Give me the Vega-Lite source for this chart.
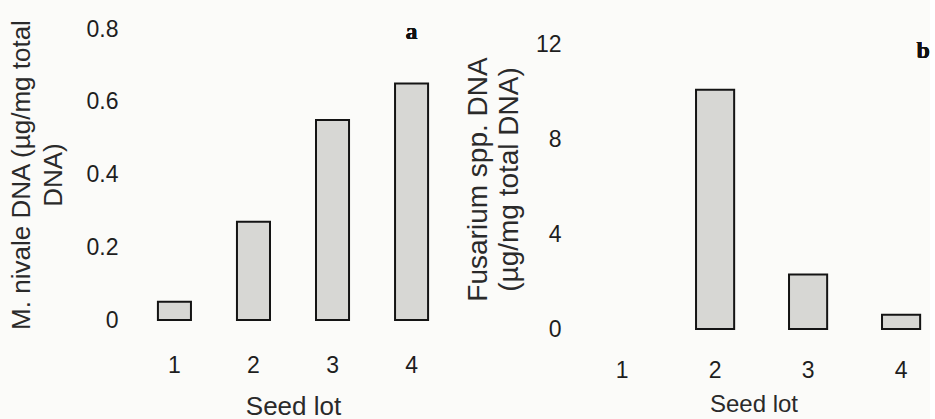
{
  "$schema": "https://vega.github.io/schema/vega-lite/v6.json",
  "background": "#fbfbf9",
  "padding": {"left": 8, "top": 18, "right": 0, "bottom": 0},
  "spacing": 13,
  "config": {
    "view": {"stroke": null},
    "font": "Liberation Sans",
    "axis": {
      "domain": false,
      "ticks": false,
      "tickSize": 0,
      "grid": false,
      "labelFont": "Liberation Sans",
      "labelFontSize": 23,
      "labelColor": "#1e1e1e",
      "titleFont": "Liberation Sans",
      "titleFontSize": 26,
      "titleFontWeight": "normal",
      "titleColor": "#2a2a2a"
    }
  },
  "hconcat": [
    {
      "width": 316,
      "height": 291,
      "data": {"values": [
        {"lot": "1", "dna": 0.05},
        {"lot": "2", "dna": 0.27},
        {"lot": "3", "dna": 0.55},
        {"lot": "4", "dna": 0.65}
      ]},
      "layer": [
        {
          "mark": {"type": "bar", "fill": "#d7d7d4", "stroke": "#141414", "strokeWidth": 2},
          "encoding": {
            "x": {
              "field": "lot", "type": "ordinal",
              "scale": {"domain": ["1", "2", "3", "4"], "paddingInner": 0.582, "paddingOuter": 0.29},
              "axis": {"title": "Seed lot", "labelAngle": 0, "labelPadding": 34, "titlePadding": 16}
            },
            "y": {
              "field": "dna", "type": "quantitative",
              "scale": {"domain": [0, 0.8], "nice": false},
              "axis": {
                "values": [0, 0.2, 0.4, 0.6, 0.8],
                "format": "~g",
                "title": ["M. nivale DNA (µg/mg total", "DNA)"],
                "titleLineHeight": 32,
                "labelPadding": 17,
                "titlePadding": 20
              }
            }
          }
        },
        {
          "mark": {"type": "text", "text": "a", "font": "Liberation Serif", "fontWeight": "bold", "fontSize": 24, "baseline": "alphabetic", "color": "#111"},
          "encoding": {
            "x": {"datum": "4", "type": "ordinal"},
            "y": {"datum": 0.7725, "type": "quantitative"}
          }
        }
      ]
    },
    {
      "width": 345,
      "height": 300,
      "data": {"values": [
        {"lot": "1", "dna": null},
        {"lot": "2", "dna": 10.1},
        {"lot": "3", "dna": 2.3},
        {"lot": "4", "dna": 0.6}
      ]},
      "layer": [
        {
          "mark": {"type": "bar", "fill": "#d7d7d4", "stroke": "#141414", "strokeWidth": 2},
          "encoding": {
            "x": {
              "field": "lot", "type": "ordinal",
              "scale": {"domain": ["1", "2", "3", "4"], "paddingInner": 0.59, "paddingOuter": 0.15, "align": 0.79},
              "axis": {"title": "Seed lot", "titleFontSize": 24, "labelAngle": 0, "labelPadding": 30, "titlePadding": 10}
            },
            "y": {
              "field": "dna", "type": "quantitative",
              "scale": {"domain": [0, 12.67], "nice": false},
              "axis": {
                "values": [0, 4, 8, 12],
                "title": ["Fusarium spp. DNA", "(µg/mg total DNA)"],
                "titleFontSize": 28,
                "titleLineHeight": 31,
                "labelPadding": 20,
                "titlePadding": 12
              }
            }
          }
        },
        {
          "mark": {"type": "text", "text": "b", "font": "Liberation Serif", "fontWeight": "bold", "fontSize": 24, "baseline": "alphabetic", "dx": 3, "color": "#111"},
          "encoding": {
            "x": {"datum": "4", "type": "ordinal", "bandPosition": 1},
            "y": {"datum": 11.45, "type": "quantitative"}
          }
        }
      ]
    }
  ]
}
